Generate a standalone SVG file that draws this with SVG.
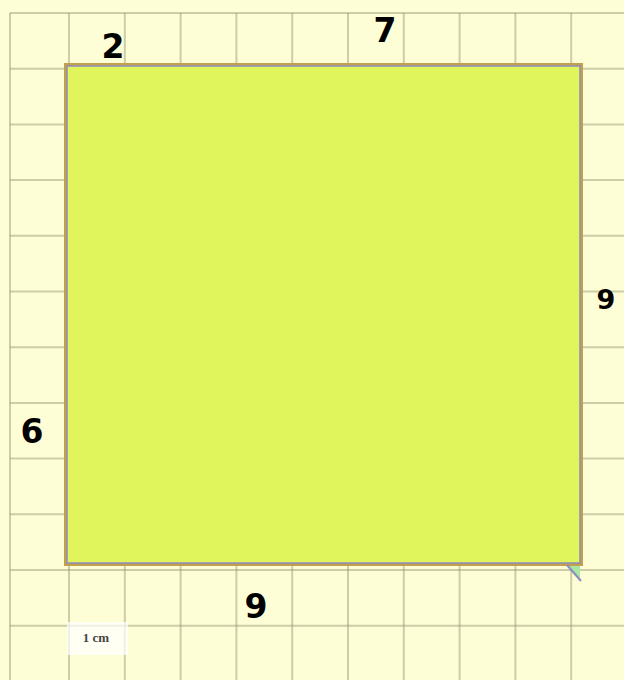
<svg xmlns="http://www.w3.org/2000/svg" width="624" height="680" viewBox="0 0 624 680">
<style>
.g{stroke:#8a8a6a;stroke-opacity:0.42;stroke-width:2;fill:none}
.n{font-family:"DejaVu Sans",sans-serif;font-weight:bold;fill:#000;text-anchor:middle}
</style>
<rect x="0" y="0" width="624" height="680" fill="#fdfdd6"/>
<g id="grid" class="g">
<path d="M10 13V680M69 13V680M124.8 13V680M180.6 13V680M236.4 13V680M292.2 13V680M348 13V680M403.8 13V680M459.6 13V680M515.4 13V680M571.2 13V680"/>
<path d="M10 13H624M10 68.7H624M10 124.4H624M10 180.1H624M10 235.8H624M10 291.5H624M10 347.2H624M10 402.9H624M10 458.6H624M10 514.3H624M10 570H624M10 625.7H624"/>
</g>
<g id="square">
<rect x="64" y="63" width="519" height="503" fill="#c4a04c"/>
<rect x="67" y="66" width="513" height="497" fill="#e0f55c" stroke="#8c8cc0" stroke-width="1.5"/>
<polygon points="567,566 580,566 580,580" fill="#a8e8a0"/>
<line x1="567" y1="565" x2="581" y2="581" stroke="#8c8cc0" stroke-width="2"/>
</g>
<g id="labels">
<text class="n" x="113" y="58" font-size="33">2</text>
<text class="n" x="385" y="42" font-size="33">7</text>
<text class="n" x="606" y="309" font-size="27">9</text>
<text class="n" x="32" y="443" font-size="33">6</text>
<text class="n" x="256" y="618" font-size="33">9</text>
</g>
<g id="scale">
<rect x="67" y="622" width="61" height="33" fill="#ffffff" fill-opacity="0.7"/>
<text x="96" y="642" font-family="Liberation Serif,serif" font-size="13" font-weight="bold" fill="#444" text-anchor="middle">1 cm</text>
</g>
</svg>
